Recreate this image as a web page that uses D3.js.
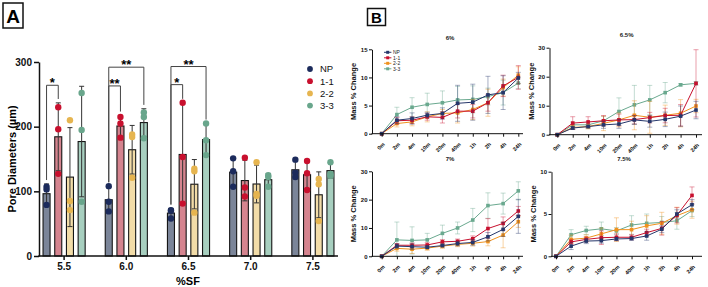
<!DOCTYPE html>
<html>
<head>
<meta charset="utf-8">
<script src="https://cdn.jsdelivr.net/npm/d3@7"></script>
<style>
body { margin: 0; background: #fff; }
svg { display: block; font-family: "Liberation Sans", Arial, sans-serif; }
</style>
</head>
<body>
<svg id="chart" width="708" height="287"></svg>
<script>
// Panel A data: pore diameters, three replicates per group
const groups = ["5.5", "6.0", "6.5", "7.0", "7.5"]
const series = ["NP", "1-1", "2-2", "3-3"]
const npPts = [[107, 103, 79], [108, 84, 69], [71, 70, 58], [151, 131, 107], [149, 129, 122]]
const r11Pts = [[230, 196, 127], [215, 205, 183], [237, 153, 81], [152, 106, 92], [147, 128, 102]]
const r22Pts = [[210, 85, 71], [188, 184, 121], [135, 131, 67], [145, 96, 93], [119, 111, 54]]
const r33Pts = [[252, 195, 84], [222, 215, 182], [205, 179, 156], [125, 122, 107], [145, 127, 124]]
const yTicksA = [0, 100, 200, 300]

// significance brackets (always from NP)
const sigGroup = ["5.5", "6.0", "6.0", "6.5", "6.5"]
const sigTo = ["1-1", "1-1", "3-3", "1-1", "3-3"]
const sigLevel = [264, 263, 292, 265, 293]
const sigLabel = ["*", "**", "**", "*", "**"]

// Panel B data: mass % change over time, order NP, 1-1, 2-2, 3-3
const timePoints = ["0m", "2m", "4m", "10m", "20m", "40m", "1h", "2h", "4h", "24h"]
const mass6Mean = [
    [0, 2.4, 2.7, 3.3, 3.6, 5.4, 5.6, 6.9, 7.3, 9.9],
    [0, 2.3, 2.4, 3.0, 2.9, 4.0, 4.0, 5.5, 8.5, 10.0],
    [0, 1.8, 2.1, 3.0, 3.6, 3.7, 4.3, 5.5, 8.2, 10.4],
    [0, 3.4, 4.7, 5.2, 5.5, 6.0, 6.1, 6.6, 7.3, 9.0],
]
const mass6Sd = [
    [0, 0.6, 1.0, 0.5, 1.0, 3.2, 3.2, 3.3, 3.0, 1.0],
    [0, 0.6, 0.6, 0.6, 1.0, 1.2, 1.2, 1.5, 1.9, 2.1],
    [0, 0.6, 0.7, 0.9, 0.7, 1.8, 1.8, 2.4, 1.5, 1.5],
    [0, 1.3, 1.7, 2.0, 2.1, 2.4, 2.4, 1.5, 2.2, 1.0],
]
const mass65Mean = [
    [0, 2.3, 2.8, 3.4, 3.7, 5.1, 4.6, 5.3, 6.4, 8.5],
    [0, 4.0, 4.4, 4.8, 5.1, 5.2, 5.9, 6.6, 6.7, 17.7],
    [0, 2.5, 2.8, 3.9, 5.1, 6.7, 6.0, 6.7, 7.4, 9.9],
    [0, 3.4, 3.4, 4.8, 8.0, 10.3, 12.0, 14.5, 17.2, 17.7],
]
const mass65Sd = [
    [0, 0.5, 0.5, 1.2, 1.5, 1.5, 2.0, 2.5, 3.5, 3.0],
    [0, 2.2, 1.8, 1.8, 2.0, 1.5, 1.8, 2.5, 3.7, 11.6],
    [0, 0.6, 0.8, 2.5, 2.4, 5.0, 5.5, 3.5, 4.7, 2.3],
    [0, 1.0, 1.0, 1.5, 4.7, 6.7, 5.0, 3.5, 0.4, 0.6],
]
const mass7Mean = [
    [0, 3.6, 3.4, 3.2, 3.8, 4.5, 4.9, 6.9, 9.5, 14.1],
    [0, 3.9, 3.9, 4.0, 5.1, 5.3, 6.2, 9.8, 11.6, 16.0],
    [0, 2.8, 2.5, 2.9, 3.6, 4.2, 4.6, 5.2, 7.5, 12.2],
    [0, 5.8, 5.6, 5.8, 8.1, 10.0, 12.8, 17.9, 18.6, 23.1],
]
const mass7Sd = [
    [0, 0.8, 1.0, 0.5, 0.5, 0.8, 1.0, 1.5, 2.5, 6.0],
    [0, 0.5, 0.8, 0.8, 0.8, 0.8, 1.0, 3.5, 2.3, 1.6],
    [0, 1.0, 1.5, 0.8, 0.8, 0.8, 1.0, 1.5, 4.5, 2.0],
    [0, 6.3, 4.8, 2.3, 2.9, 2.1, 4.1, 4.5, 3.7, 3.2],
]
const mass75Mean = [
    [0, 1.2, 1.8, 1.85, 2.05, 2.1, 2.4, 3.2, 5.0, 6.1],
    [0, 1.7, 2.0, 2.2, 2.25, 2.25, 2.8, 3.3, 4.85, 7.2],
    [0, 2.0, 2.15, 2.65, 3.15, 3.15, 3.6, 3.9, 4.8, 5.5],
    [0, 2.55, 3.05, 3.25, 3.0, 3.7, 3.9, 4.0, 4.2, 5.4],
]
const mass75Sd = [
    [0, 0.4, 0.3, 0.3, 0.2, 0.2, 0.5, 0.4, 0.5, 0.6],
    [0, 0.3, 0.3, 0.8, 0.4, 0.3, 0.4, 0.8, 0.9, 1.0],
    [0, 0.5, 0.4, 0.7, 1.4, 1.0, 1.2, 1.3, 1.0, 1.0],
    [0, 0.6, 0.5, 0.8, 0.4, 1.1, 1.1, 0.7, 1.0, 0.7],
]

const barFill = ["#7b8599", "#d5848f", "#f2dca8", "#a7cfbf"]
const dotFill = ["#1c2b5c", "#c8102e", "#e6b550", "#69a68c"]
const lineColor = ["#26376b", "#c8102e", "#f0921e", "#6aa98f"]

const svg = d3.select("#chart")
svg.append("rect").attr("width", 708).attr("height", 287).attr("fill", "#fff")

//  Panel A
// ===================================
const ptsBySeries = [npPts, r11Pts, r22Pts, r33Pts]
const A = svg.append("g")

A.append("rect").attr("x", 3).attr("y", 3).attr("width", 20).attr("height", 25)
    .attr("fill", "none").attr("stroke", "#111").attr("stroke-width", 1.5)
A.append("text").attr("x", 13).attr("y", 22.5).attr("text-anchor", "middle")
    .attr("font-size", 19).attr("font-weight", "bold").text("A")

const xA = d3.scaleBand().domain(groups).range([33, 344])
const xIn = d3.scaleBand().domain(series).range([-23.4, 23.4]).paddingInner(0.4).paddingOuter(0.2)
const yA = d3.scaleLinear().domain([0, 300]).range([256, 62])
const cxA = (g, s) => xA(g) + xA.bandwidth() / 2 + xIn(s) + xIn.bandwidth() / 2
const statsA = (gi, si) => {
    const pts = ptsBySeries[si][gi]
    return { pts, m: d3.mean(pts), sd: d3.deviation(pts) }
}

groups.forEach((g, gi) => {
    series.forEach((s, si) => {
        const { pts, m, sd } = statsA(gi, si)
        const cx = cxA(g, s)
        A.append("rect")
            .attr("x", cx - xIn.bandwidth() / 2)
            .attr("y", yA(m))
            .attr("width", xIn.bandwidth())
            .attr("height", yA(0) - yA(m))
            .attr("fill", barFill[si])
            .attr("stroke", "#151515")
            .attr("stroke-width", 1.1)
        const lo = Math.max(0, m - sd), hi = m + sd
        A.append("line").attr("x1", cx).attr("x2", cx).attr("y1", yA(lo)).attr("y2", yA(hi))
            .attr("stroke", "#333").attr("stroke-width", 1)
        ;[lo, hi].forEach(v => {
            A.append("line").attr("x1", cx - 2.5).attr("x2", cx + 2.5).attr("y1", yA(v)).attr("y2", yA(v))
                .attr("stroke", "#333").attr("stroke-width", 1)
        })
        A.selectAll(null).data(pts).join("circle")
            .attr("cx", cx).attr("cy", d => yA(d)).attr("r", 3.2)
            .attr("fill", dotFill[si])
    })
})

// brackets
sigGroup.forEach((g, i) => {
    const gi = groups.indexOf(g)
    const ti = series.indexOf(sigTo[i])
    const legBottom = si => {
        const { pts, m, sd } = statsA(gi, si)
        return yA(Math.max(d3.max(pts), m + sd) + 6)
    }
    const x1 = cxA(g, "NP"), x2 = cxA(g, sigTo[i]), y = yA(sigLevel[i])
    A.append("path")
        .attr("d", `M${x1},${legBottom(0)}V${y}H${x2}V${legBottom(ti)}`)
        .attr("fill", "none").attr("stroke", "#444").attr("stroke-width", 1)
    A.append("text").attr("x", (x1 + x2) / 2).attr("y", y + 2)
        .attr("text-anchor", "middle").attr("font-size", 13).attr("font-weight", "bold")
        .text(sigLabel[i])
})

// axes A
const yAxisA = A.append("g").attr("transform", "translate(39,0)")
    .call(d3.axisLeft(yA).tickValues(yTicksA).tickSize(5).tickSizeOuter(0).tickPadding(2))
yAxisA.selectAll("text").attr("font-size", 10).attr("font-weight", "bold").attr("fill", "#111")
yAxisA.selectAll("line, path").attr("stroke", "#111").attr("stroke-width", 1.5)

const xAxisA = A.append("g").attr("transform", "translate(0,256)")
    .call(d3.axisBottom(xA).tickSize(4).tickSizeOuter(0).tickPadding(3))
xAxisA.select(".domain").remove()
xAxisA.selectAll("text").attr("font-size", 10).attr("font-weight", "bold").attr("fill", "#111")
xAxisA.selectAll("line").attr("stroke", "#111").attr("stroke-width", 1.5)
A.append("line").attr("x1", 38.25).attr("x2", 338).attr("y1", 256).attr("y2", 256)
    .attr("stroke", "#111").attr("stroke-width", 1.5)

A.append("text").attr("transform", "translate(16,159) rotate(-90)").attr("text-anchor", "middle")
    .attr("font-size", 11).attr("font-weight", "bold").text("Pore Diameters (\u00b5m)")
A.append("text").attr("x", 188).attr("y", 285).attr("text-anchor", "middle")
    .attr("font-size", 11).attr("font-weight", "bold").text("%SF")

// legend A
series.forEach((s, si) => {
    const y = 69 + si * 12.2
    A.append("circle").attr("cx", 310).attr("cy", y).attr("r", 2.9).attr("fill", dotFill[si])
    A.append("text").attr("x", 320).attr("y", y + 3.4).attr("font-size", 9.5).attr("fill", "#111").text(s)
})

//  Panel B
// ===================================
const B = svg.append("g")
B.append("rect").attr("x", 367.5).attr("y", 8.5).attr("width", 18).attr("height", 17)
    .attr("fill", "none").attr("stroke", "#111").attr("stroke-width", 1.5)
B.append("text").attr("x", 376.5).attr("y", 22.5).attr("text-anchor", "middle")
    .attr("font-size", 15).attr("font-weight", "bold").text("B")

const subplots = [
    { title: "6%", mean: mass6Mean, sd: mass6Sd, yMax: 15, ticks: [0, 5, 10, 15], ax: 372, x0: 381.7, x1: 518.3, xEnd: 523, yTop: 49.3, yBot: 133.7, titleY: 40, legend: true },
    { title: "6.5%", mean: mass65Mean, sd: mass65Sd, yMax: 30, ticks: [0, 10, 20, 30], ax: 549.5, x0: 557.3, x1: 696, xEnd: 702, yTop: 47.7, yBot: 134.7, titleY: 37, legend: false },
    { title: "7%", mean: mass7Mean, sd: mass7Sd, yMax: 30, ticks: [0, 10, 20, 30], ax: 372, x0: 381.7, x1: 518.3, xEnd: 523, yTop: 171.3, yBot: 256.3, titleY: 161, legend: false },
    { title: "7.5%", mean: mass75Mean, sd: mass75Sd, yMax: 10, ticks: [0, 5, 10], ax: 551.5, x0: 556, x1: 692, xEnd: 702, yTop: 171.7, yBot: 256.3, titleY: 161, legend: false },
]

subplots.forEach(p => {
    const g = B.append("g")
    const x = d3.scalePoint().domain(timePoints).range([p.x0, p.x1])
    const y = d3.scaleLinear().domain([0, p.yMax]).range([p.yBot, p.yTop])

    g.append("text").attr("x", (p.x0 + p.x1) / 2).attr("y", p.titleY).attr("text-anchor", "middle")
        .attr("font-size", 6).attr("font-weight", "bold").attr("fill", "#222").text(p.title)

    const drawOrder = [3, 2, 1, 0]
    drawOrder.forEach(si => {
        const mean = p.mean[si], sd = p.sd[si]
        const c = lineColor[si]
        // error bars
        timePoints.forEach((t, ti) => {
            if (sd[ti] <= 0) return
            const px = x(t), hi = y(mean[ti] + sd[ti]), lo = y(Math.max(0, mean[ti] - sd[ti]))
            g.append("path")
                .attr("d", `M${px},${lo}V${hi}M${px - 2.5},${hi}H${px + 2.5}M${px - 2.5},${lo}H${px + 2.5}`)
                .attr("stroke", c).attr("stroke-opacity", 0.45).attr("stroke-width", 0.9).attr("fill", "none")
        })
        g.append("path").datum(mean)
            .attr("d", d3.line().x((d, i) => x(timePoints[i])).y(d => y(d)))
            .attr("fill", "none").attr("stroke", c).attr("stroke-width", 1)
        g.selectAll(null).data(mean).join("rect")
            .attr("x", (d, i) => x(timePoints[i]) - 1.8)
            .attr("y", d => y(d) - 1.8)
            .attr("width", 3.6).attr("height", 3.6)
            .attr("fill", c)
    })

    const yAx = g.append("g").attr("transform", `translate(${p.ax},0)`)
        .call(d3.axisLeft(y).tickValues(p.ticks).tickSize(3).tickSizeOuter(0).tickPadding(1.5))
    yAx.selectAll("text").attr("font-size", 6).attr("font-weight", "bold").attr("fill", "#111")
    yAx.selectAll("line, path").attr("stroke", "#111").attr("stroke-width", 1)

    const xAx = g.append("g").attr("transform", `translate(0,${p.yBot})`)
        .call(d3.axisBottom(x).tickSize(3).tickSizeOuter(0))
    xAx.select(".domain").remove()
    xAx.selectAll("line").attr("stroke", "#111").attr("stroke-width", 1)
    xAx.selectAll("text")
        .attr("font-size", 5.5).attr("font-weight", "bold").attr("fill", "#111")
        .attr("text-anchor", "end").attr("dy", null).attr("y", 0)
        .attr("transform", "translate(3,11) rotate(-45)")
    g.append("line").attr("x1", p.ax - 0.5).attr("x2", p.xEnd).attr("y1", p.yBot).attr("y2", p.yBot)
        .attr("stroke", "#111").attr("stroke-width", 1)

    g.append("text").attr("transform", `translate(${p.ax - 16},${(p.yTop + p.yBot) / 2}) rotate(-90)`)
        .attr("text-anchor", "middle").attr("font-size", 7.5).attr("font-weight", "bold")
        .attr("fill", "#111").text("Mass % Change")

    if (p.legend) {
        series.forEach((s, si) => {
            const ly = 52.3 + si * 5.5
            g.append("line").attr("x1", 384).attr("x2", 391.4).attr("y1", ly).attr("y2", ly)
                .attr("stroke", lineColor[si]).attr("stroke-width", 1)
            g.append("rect").attr("x", 386.2).attr("y", ly - 1.5).attr("width", 3).attr("height", 3)
                .attr("fill", lineColor[si])
            g.append("text").attr("x", 393).attr("y", ly + 1.8).attr("font-size", 5)
                .attr("fill", "#222").text(s)
        })
    }
})
</script>
</body>
</html>
